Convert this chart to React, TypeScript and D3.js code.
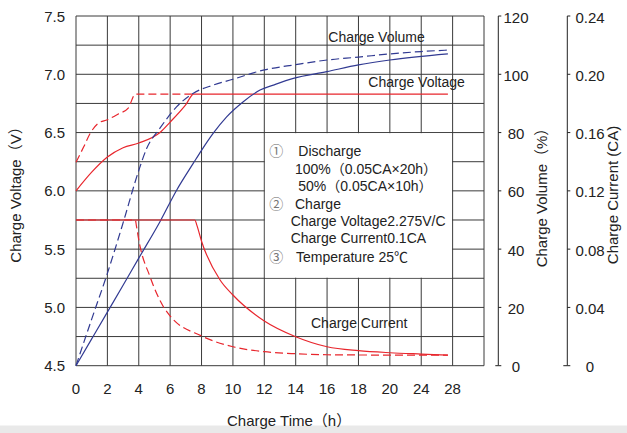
import * as d3 from 'd3';

// x positions are grid hours: the printed labels jump 20 -> 24 -> 28
const timeTicks = [0, 2, 4, 6, 8, 10, 12, 14, 16, 18, 20, 22, 24];
const timeLabels = ['0', '2', '4', '6', '8', '10', '12', '14', '16', '18', '20', '24', '28'];
const voltageTicks = [4.5, 5.0, 5.5, 6.0, 6.5, 7.0, 7.5];
const volumeTicks = [0, 20, 40, 60, 80, 100, 120];
const currentTicks = [0, 0.04, 0.08, 0.12, 0.16, 0.2, 0.24];

type Pt = [number, number];

// 100% discharge (solid) and 50% discharge (dashed)
const voltage100: Pt[] = [
  [0, 6.0], [1, 6.16], [2, 6.29], [3, 6.37], [4, 6.41], [5.35, 6.5], [6, 6.59],
  [7, 6.74], [7.5, 6.83], [15, 6.83], [23.7, 6.83],
];
const voltage50: Pt[] = [
  [0, 6.245], [0.5, 6.38], [0.89, 6.49], [1.42, 6.58], [2, 6.61], [2.7, 6.66],
  [3.33, 6.71], [3.78, 6.83], [7.5, 6.83],
];
const volume100: Pt[] = [
  [0, 0], [1, 9.2], [2, 18.4], [3, 27.6], [4, 36.9], [5.35, 49.4], [6.42, 60.3],
  [7.48, 69.5], [8.01, 74], [8.75, 79.8], [9.6, 85.4], [10.66, 90.6], [11.73, 94.6],
  [12.58, 96.3], [13.85, 98.6], [15.98, 100.9], [18, 103.2], [20, 104.9], [23.7, 107],
];
const volume50: Pt[] = [
  [0, 0], [1, 16], [2, 31.7], [3, 49], [4, 67], [4.5, 74.5], [5.35, 81.5],
  [6.42, 88.9], [7.48, 93.5], [8.75, 96.3], [10, 98.3], [12, 101.5], [14, 103.3],
  [16, 104.9], [18, 105.9], [20, 107], [22, 107.8], [23.7, 108.3],
];
const current100: Pt[] = [
  [0, 0.1], [7.58, 0.1], [7.7, 0.0965], [8.01, 0.0851], [9.18, 0.0588], [10, 0.0485],
  [12, 0.0307], [14, 0.0199], [16, 0.013], [18, 0.0103], [20, 0.0089], [22, 0.008],
  [23.7, 0.0073],
];
const current50: Pt[] = [
  [0, 0.1], [3.78, 0.1], [3.85, 0.096], [4, 0.0863], [4.72, 0.061], [5.57, 0.0405],
  [6, 0.0341], [8, 0.0204], [10, 0.013], [12, 0.0096], [14, 0.0082], [16, 0.0075],
  [20, 0.0073], [23.7, 0.0073],
];

const FONT = "'Liberation Sans', Arial, 'Noto Sans CJK SC', sans-serif";
const RED = '#e8262d';
const BLUE = '#313a92';
const GRID = '#3a3a3a';
const TEXT = '#222';

export default function App() {
  const width = 627;
  const height = 433;
  const left = 76;
  const right = 484;
  const top = 16;
  const bottom = 365.7;

  const x = d3.scaleLinear().domain([0, 26]).range([left, right]);
  const yV = d3.scaleLinear().domain([4.5, 7.5]).range([bottom, top]);
  const yVol = d3.scaleLinear().domain([0, 120]).range([bottom, top]);
  const yCur = d3.scaleLinear().domain([0, 0.24]).range([bottom, top]);

  const lineOf = (y: d3.ScaleLinear<number, number>) =>
    d3
      .line<Pt>()
      .x((d) => x(d[0]))
      .y((d) => y(d[1]))
      .curve(d3.curveMonotoneX);

  const vLine = lineOf(yV);
  const volLine = lineOf(yVol);
  const curLine = lineOf(yCur);

  const vGrid = d3.range(0, 26.01, 2);
  const hGrid = d3.range(4.5, 7.51, 0.25);

  const volAxisX = 498.3;
  const curAxisX = 567.3;

  const curves = [
    { d: vLine(voltage100), color: RED, dash: undefined },
    { d: vLine(voltage50), color: RED, dash: '8,4' },
    { d: volLine(volume100), color: BLUE, dash: undefined },
    { d: volLine(volume50), color: BLUE, dash: '8,4' },
    { d: curLine(current100), color: RED, dash: undefined },
    { d: curLine(current50), color: RED, dash: '8,4' },
  ];

  const legend = [
    { mark: '①', text: 'Discharge', tx: 298.3, y: 150.7 },
    { mark: '', text: '100%（0.05CA×20h）', tx: 295, y: 169.3 },
    { mark: '', text: '50%（0.05CA×10h）', tx: 298.3, y: 186 },
    { mark: '②', text: 'Charge', tx: 295, y: 204 },
    { mark: '', text: 'Charge Voltage2.275V/C', tx: 290.7, y: 220.7 },
    { mark: '', text: 'Charge Current0.1CA', tx: 290.7, y: 237.7 },
    { mark: '③', text: 'Temperature 25℃', tx: 296, y: 256.7 },
  ];

  return (
    <svg
      width={width}
      height={height}
      style={{ position: 'absolute', left: 0, top: 0, background: '#fff' }}
      fontFamily={FONT}
    >
      <rect x={0} y={425.5} width={width} height={height - 425.5} fill="#e9e9e9" />

      {/* grid */}
      {vGrid.map((t) => (
        <line key={`v${t}`} x1={x(t)} x2={x(t)} y1={top} y2={bottom} stroke={GRID} strokeWidth={1} />
      ))}
      {hGrid.map((t) => (
        <line key={`h${t}`} x1={left} x2={right} y1={yV(t)} y2={yV(t)} stroke={GRID} strokeWidth={1} />
      ))}

      {/* notes box */}
      <rect
        x={x(12) + 0.6}
        y={yV(6.5) + 0.6}
        width={x(24) - x(12) - 1.2}
        height={yV(5.25) - yV(6.5) - 1.2}
        fill="#fff"
      />

      {curves.map((c, i) => (
        <path key={i} d={c.d ?? ''} fill="none" stroke={c.color} strokeWidth={1.2} strokeDasharray={c.dash} />
      ))}

      {/* left axis labels */}
      {voltageTicks.map((t) => (
        <text key={t} x={65} y={yV(t)} textAnchor="end" dominantBaseline="central" fontSize={15} fill={TEXT}>
          {t.toFixed(1)}
        </text>
      ))}

      {/* bottom labels */}
      {timeTicks.map((t, i) => (
        <text key={t} x={x(t)} y={388.3} textAnchor="middle" dominantBaseline="central" fontSize={15} fill={TEXT}>
          {timeLabels[i]}
        </text>
      ))}

      {/* volume axis */}
      <line x1={volAxisX} x2={volAxisX} y1={top} y2={bottom} stroke={TEXT} strokeWidth={1} />
      <line x1={volAxisX - 3} x2={volAxisX} y1={bottom} y2={bottom} stroke={TEXT} strokeWidth={1} />
      {volumeTicks.map((t) => (
        <g key={t}>
          <line x1={volAxisX} x2={volAxisX + 3} y1={yVol(t)} y2={yVol(t)} stroke={TEXT} strokeWidth={1} />
          <text x={516} y={yVol(t) + 1} textAnchor="middle" dominantBaseline="central" fontSize={15} fill={TEXT}>
            {t}
          </text>
        </g>
      ))}

      {/* current axis */}
      <line x1={curAxisX} x2={curAxisX} y1={top} y2={bottom} stroke={TEXT} strokeWidth={1} />
      <line x1={curAxisX - 4} x2={curAxisX} y1={bottom} y2={bottom} stroke={TEXT} strokeWidth={1} />
      {currentTicks.map((t) => (
        <g key={t}>
          <line x1={curAxisX} x2={curAxisX + 3} y1={yCur(t)} y2={yCur(t)} stroke={TEXT} strokeWidth={1} />
          <text x={590} y={yCur(t) + 1} textAnchor="middle" dominantBaseline="central" fontSize={15} fill={TEXT}>
            {t === 0 ? '0' : t.toFixed(2)}
          </text>
        </g>
      ))}

      {/* axis titles */}
      <text
        transform="translate(15.7,191) rotate(-90)"
        textAnchor="middle"
        dominantBaseline="central"
        fontSize={15}
        fill={TEXT}
      >
        Charge Voltage（V）
      </text>
      <text
        transform="translate(541.7,194) rotate(-90)"
        textAnchor="middle"
        dominantBaseline="central"
        fontSize={15}
        fill={TEXT}
      >
        Charge Volume（%）
      </text>
      <text
        transform="translate(612,195) rotate(-90)"
        textAnchor="middle"
        dominantBaseline="central"
        fontSize={15}
        fill={TEXT}
      >
        Charge Current (CA)
      </text>
      <text x={227} y={420} dominantBaseline="central" fontSize={15} fill={TEXT}>
        Charge Time（h）
      </text>

      {/* curve labels */}
      <text x={328.3} y={36.7} dominantBaseline="central" fontSize={14} fill={TEXT}>
        Charge Volume
      </text>
      <text x={368.3} y={82.3} dominantBaseline="central" fontSize={14} fill={TEXT}>
        Charge Voltage
      </text>
      <text x={311} y={323} dominantBaseline="central" fontSize={14} fill={TEXT}>
        Charge Current
      </text>

      {/* notes */}
      {legend.map((l, i) => (
        <g key={i}>
          {l.mark && (
            <text x={269.3} y={l.y} dominantBaseline="central" fontSize={14} fill="#777">
              {l.mark}
            </text>
          )}
          <text x={l.tx} y={l.y} dominantBaseline="central" fontSize={14} fill={TEXT}>
            {l.text}
          </text>
        </g>
      ))}
    </svg>
  );
}
